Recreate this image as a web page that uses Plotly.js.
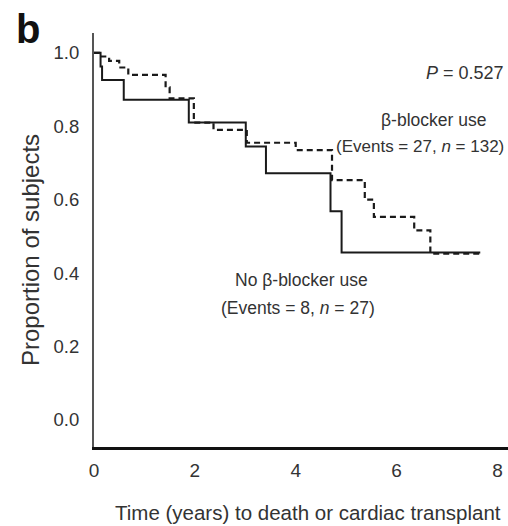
<!DOCTYPE html>
<html>
<head>
<meta charset="utf-8">
<script src="https://cdn.plot.ly/plotly-3.0.1.min.js"></script>
<style>html,body{margin:0;padding:0;background:#fff;}#chart{width:508px;height:526px;}</style>
</head>
<body>
<div id="chart"></div>
<script>
// Kaplan-Meier step data
const noBlockerTime  = [0, 0.13, 0.16, 0.59, 1.88, 3.01, 3.41, 4.69, 4.91, 7.66];
const noBlockerSurv  = [1.0, 0.963, 0.926, 0.872, 0.81, 0.745, 0.672, 0.568, 0.456, 0.456];
const blockerTime    = [0, 0.1, 0.3, 0.5, 0.68, 1.42, 1.5, 1.98, 2.37, 3.03, 4.0, 4.72, 5.37, 5.55, 6.35, 6.67, 7.66];
const blockerSurv    = [1.0, 0.99, 0.978, 0.96, 0.94, 0.906, 0.876, 0.81, 0.79, 0.755, 0.735, 0.653, 0.60, 0.553, 0.516, 0.453, 0.453];
const xTicks = [0, 2, 4, 6, 8];
const yTicks = [0.0, 0.2, 0.4, 0.6, 0.8, 1.0];
const yTickLabels = ['0.0', '0.2', '0.4', '0.6', '0.8', '1.0'];

const FONT = 'Liberation Sans, Arial, sans-serif';
const traces = [
  {x: blockerTime, y: blockerSurv, mode: 'lines', line: {shape: 'hv', color: '#1a1a1a', width: 2.2, dash: '6px,4px'}, name: 'β-blocker use'},
  {x: noBlockerTime, y: noBlockerSurv, mode: 'lines', line: {shape: 'hv', color: '#1a1a1a', width: 2}, name: 'No β-blocker use'}
];
const txt = {family: FONT, size: 17.5, color: '#333'};
const layout = {
  width: 508, height: 526,
  margin: {l: 94, r: 0, t: 33, b: 79},
  paper_bgcolor: '#fff', plot_bgcolor: '#fff',
  showlegend: false,
  font: {family: FONT, color: '#333'},
  xaxis: {range: [0, 8.21], tickvals: xTicks, ticktext: xTicks.map(String), showgrid: false, zeroline: false,
          showline: true, linecolor: '#111', linewidth: 2.5, ticks: '', tickfont: {family: FONT, size: 19, color: '#333'}, ticklabelstandoff: 5},
  yaxis: {range: [-0.074, 1.054], tickvals: yTicks, ticktext: yTickLabels, showgrid: false, zeroline: false,
          showline: true, linecolor: '#555', linewidth: 2, ticks: '', tickfont: {family: FONT, size: 18.5, color: '#333'}, ticklabelstandoff: 9},
  annotations: [
    {xref: 'paper', yref: 'paper', x: -0.16, y: 1.01, text: '<b>b</b>', showarrow: false, font: {family: FONT, size: 40, color: '#111'}, xanchor: 'center', yanchor: 'middle'},
    {xref: 'paper', yref: 'paper', x: -0.152, y: 0.476, text: 'Proportion of subjects', textangle: -90, showarrow: false, font: {family: FONT, size: 24, color: '#333'}, xanchor: 'center', yanchor: 'middle'},
    {xref: 'paper', yref: 'paper', x: 0.516, y: -0.158, text: 'Time (years) to death or cardiac transplant', showarrow: false, font: {family: FONT, size: 20.5, color: '#333'}, xanchor: 'center', yanchor: 'middle'},
    {xref: 'paper', yref: 'paper', x: 0.995, y: 0.903, text: '<i>P</i> = 0.527', showarrow: false, font: {family: FONT, size: 18, color: '#333'}, xanchor: 'right', yanchor: 'middle'},
    {xref: 'paper', yref: 'paper', x: 0.819, y: 0.790, text: 'β-blocker use', showarrow: false, font: txt, xanchor: 'center', yanchor: 'middle'},
    {xref: 'paper', yref: 'paper', x: 0.995, y: 0.727, text: '(Events = 27, <i>n</i> = 132)', showarrow: false, font: {family: FONT, size: 17, color: '#333'}, xanchor: 'right', yanchor: 'middle'},
    {xref: 'paper', yref: 'paper', x: 0.5, y: 0.403, text: 'No β-blocker use', showarrow: false, font: txt, xanchor: 'center', yanchor: 'middle'},
    {xref: 'paper', yref: 'paper', x: 0.493, y: 0.336, text: '(Events = 8, <i>n</i> = 27)', showarrow: false, font: txt, xanchor: 'center', yanchor: 'middle'}
  ]
};
Plotly.newPlot('chart', traces, layout, {displayModeBar: false, staticPlot: true});
</script>
</body>
</html>
